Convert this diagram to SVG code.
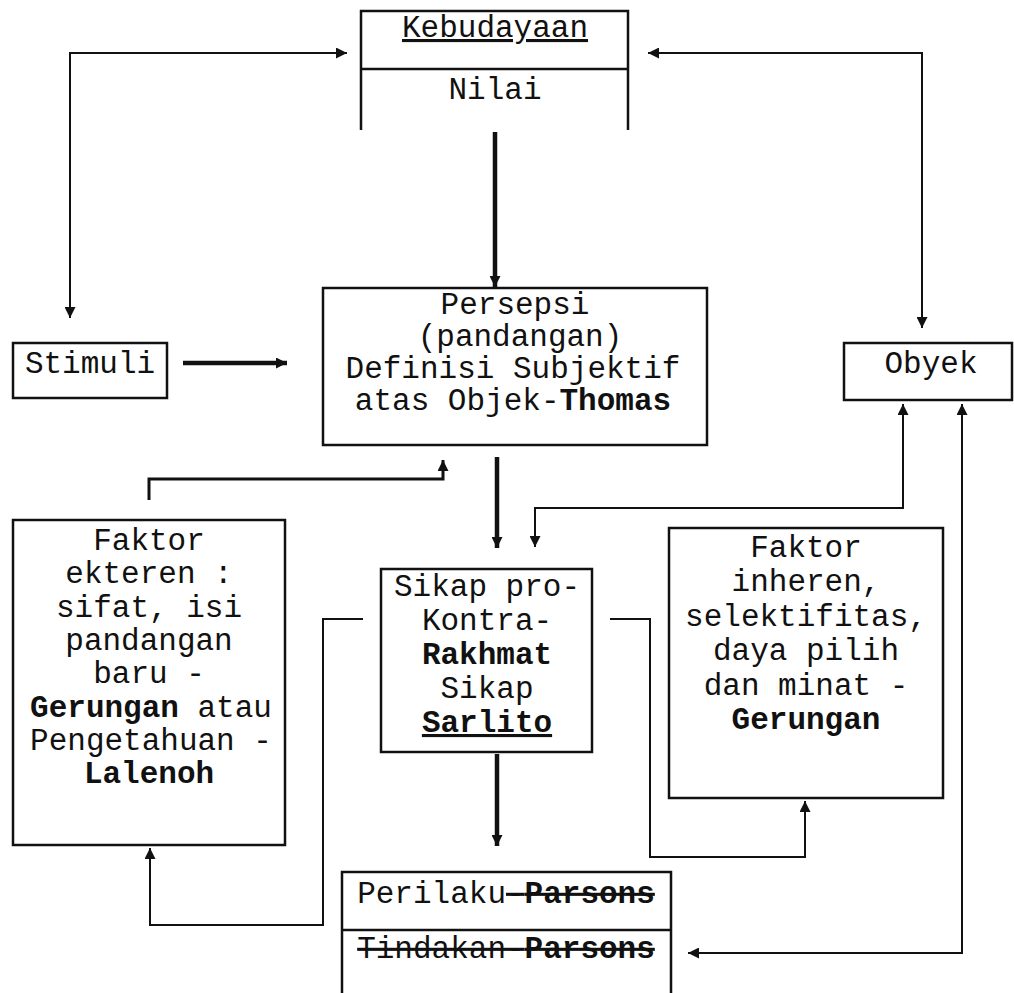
<svg xmlns="http://www.w3.org/2000/svg" width="1014" height="993" viewBox="0 0 1014 993">
<style>
  .box{fill:none;stroke:#111;stroke-width:2.5}
  .t{font-family:"Liberation Mono","Courier New",monospace;font-size:31px;fill:#111;text-anchor:middle}
  .b{font-weight:bold}
  .c{fill:none;stroke:#111;stroke-width:2}
  .c3{fill:none;stroke:#111;stroke-width:3}
  .c4{fill:none;stroke:#111;stroke-width:4.5}
</style>
<defs>
  <marker id="ah" viewBox="0 0 10 10" refX="10" refY="5" markerWidth="13" markerHeight="11" markerUnits="userSpaceOnUse" orient="auto-start-reverse">
    <path d="M0,0 L10,5 L0,10 z" fill="#111"/>
  </marker>
</defs>
<rect width="1014" height="993" fill="#fff"/>

<g id="connectors">
  <path class="c" d="M70 318 L70 53 L347 53" marker-start="url(#ah)" marker-end="url(#ah)"/>
  <path class="c" d="M648 53 L922 53 L922 328" marker-start="url(#ah)" marker-end="url(#ah)"/>
  <path class="c4" d="M495 132 L495 287" marker-end="url(#ah)"/>
  <path class="c4" d="M183 363 L287 363" marker-end="url(#ah)"/>
  <path class="c3" d="M149 500 L149 479 L443 479 L443 460" marker-end="url(#ah)"/>
  <path class="c4" d="M497 457 L497 548" marker-end="url(#ah)"/>
  <path class="c" d="M903 404 L903 508 L535 508 L535 547" marker-start="url(#ah)" marker-end="url(#ah)"/>
  <path class="c" d="M610 619 L650 619 L650 857 L805 857 L805 801" marker-end="url(#ah)"/>
  <path class="c" d="M363 619 L323 619 L323 925 L150 925 L150 848" marker-end="url(#ah)"/>
  <path class="c4" d="M497 754 L497 846" marker-end="url(#ah)"/>
  <path class="c" d="M962 404 L962 953 L688 953" marker-start="url(#ah)" marker-end="url(#ah)"/>
</g>

<g id="kebudayaan">
  <path class="box" d="M361 130 L361 11 L628 11 L628 130 M361 69 L628 69"/>
  <text class="t" x="495" y="37" text-decoration="underline">Kebudayaan</text>
  <text class="t" x="495" y="99">Nilai</text>
</g>

<g id="stimuli">
  <rect class="box" x="13" y="343" width="154" height="55"/>
  <text class="t" x="90" y="373">Stimuli</text>
</g>

<g id="persepsi">
  <rect class="box" x="323" y="288" width="384" height="157"/>
  <text class="t" x="515" y="314">Persepsi</text>
  <text class="t" x="520" y="346">(pandangan)</text>
  <text class="t" x="513" y="378">Definisi Subjektif</text>
  <text class="t" x="513" y="410">atas Objek-<tspan class="b">Thomas</tspan></text>
</g>

<g id="obyek">
  <rect class="box" x="844" y="343" width="168" height="57"/>
  <text class="t" x="931" y="373">Obyek</text>
</g>

<g id="faktor-ekteren">
  <rect class="box" x="13" y="520" width="272" height="325"/>
  <text class="t" x="149" y="550">Faktor</text>
  <text class="t" x="149" y="583">ekteren :</text>
  <text class="t" x="149" y="617">sifat, isi</text>
  <text class="t" x="149" y="650">pandangan</text>
  <text class="t" x="149" y="683">baru -</text>
  <text class="t" x="151" y="717"><tspan class="b">Gerungan</tspan> atau</text>
  <text class="t" x="151" y="750">Pengetahuan -</text>
  <text class="t b" x="149" y="783">Lalenoh</text>
</g>

<g id="sikap">
  <rect class="box" x="381" y="569" width="211" height="183"/>
  <text class="t" x="487" y="596">Sikap pro-</text>
  <text class="t" x="487" y="630">Kontra-</text>
  <text class="t b" x="487" y="664">Rakhmat</text>
  <text class="t" x="487" y="698">Sikap</text>
  <text class="t b" x="487" y="732" text-decoration="underline">Sarlito</text>
</g>

<g id="faktor-inheren">
  <rect class="box" x="669" y="528" width="274" height="270"/>
  <text class="t" x="806" y="557">Faktor</text>
  <text class="t" x="806" y="591">inheren,</text>
  <text class="t" x="806" y="626">selektifitas,</text>
  <text class="t" x="806" y="660">daya pilih</text>
  <text class="t" x="806" y="695">dan minat -</text>
  <text class="t b" x="806" y="729">Gerungan</text>
</g>

<g id="perilaku-tindakan">
  <path class="box" d="M342 993 L342 872 L671 872 L671 993 M342 930 L671 930"/>
  <text class="t" x="506" y="903">Perilaku<tspan text-decoration="line-through">-<tspan class="b">Parsons</tspan></tspan></text>
  <text class="t" x="506" y="958" text-decoration="line-through">Tindakan-<tspan class="b">Parsons</tspan></text>
</g>
</svg>
